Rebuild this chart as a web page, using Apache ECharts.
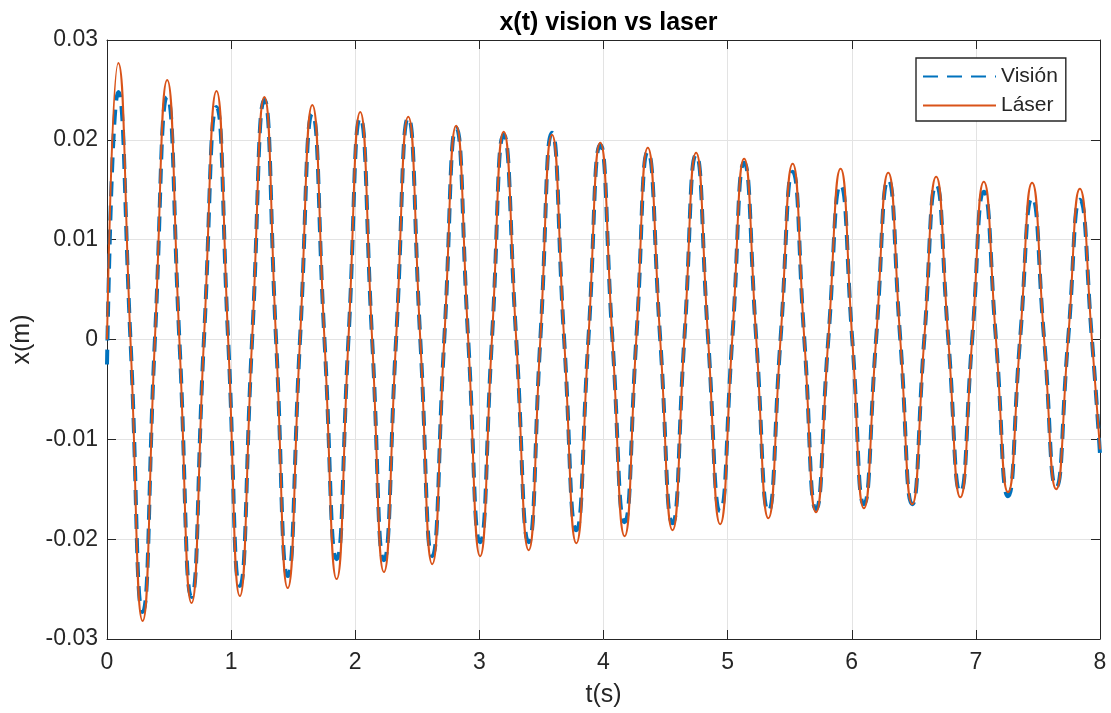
<!DOCTYPE html>
<html>
<head>
<meta charset="utf-8">
<script src="https://cdn.jsdelivr.net/npm/echarts@6/dist/echarts.min.js"></script>
<style>
html,body{margin:0;padding:0;background:#fff;}
#chart{width:1111px;height:713px;}
</style>
</head>
<body>
<div id="chart"></div>
<script>
// time samples (s): start, peaks, zero crossings, troughs, end
const timeS = [
  0, 0.091, 0.189, 0.287, 0.386, 0.485, 0.583, 0.681, 0.781, 0.882, 0.976,
  1.070, 1.169, 1.268, 1.362, 1.456, 1.555, 1.654, 1.752, 1.850, 1.945,
  2.040, 2.136, 2.231, 2.329, 2.427, 2.524, 2.620, 2.717, 2.813, 2.910,
  3.006, 3.101, 3.196, 3.297, 3.397, 3.491, 3.585, 3.683, 3.781, 3.878,
  3.974, 4.072, 4.170, 4.264, 4.357, 4.457, 4.556, 4.651, 4.746, 4.843,
  4.940, 5.037, 5.133, 5.231, 5.328, 5.426, 5.524, 5.618, 5.712, 5.811,
  5.910, 6.004, 6.098, 6.196, 6.294, 6.391, 6.487, 6.584, 6.680, 6.778,
  6.875, 6.970, 7.064, 7.162, 7.259, 7.356, 7.453, 7.550, 7.647, 7.743,
  7.838, 7.935, 8.000
];
// Láser x(m)
const laserX = [
  0, 0.0277, 0, -0.0282, 0, 0.0260, 0, -0.0264, 0, 0.0249, 0,
  -0.0257, 0, 0.0243, 0, -0.0249, 0, 0.0235, 0, -0.0240, 0,
  0.0228, 0, -0.0233, 0, 0.0223, 0, -0.0225, 0, 0.0214, 0,
  -0.0217, 0, 0.0208, 0, -0.0211, 0, 0.0205, 0, -0.0204, 0,
  0.0197, 0, -0.0197, 0, 0.0192, 0, -0.0191, 0, 0.0187, 0,
  -0.0185, 0, 0.0181, 0, -0.0179, 0, 0.0176, 0, -0.0173, 0,
  0.0171, 0, -0.0169, 0, 0.0167, 0, -0.0165, 0, 0.0163, 0,
  -0.0158, 0, 0.0158, 0, -0.0153, 0, 0.0157, 0, -0.0150, 0,
  0.0151, 0, -0.0110
];
// Visión x(m)
const visionX = [
  -0.0025, 0.0248, 0, -0.0273, 0, 0.0243, 0, -0.0258, 0, 0.0233, 0,
  -0.0247, 0, 0.0240, 0, -0.0237, 0, 0.0226, 0, -0.0220, 0,
  0.0222, 0, -0.0221, 0, 0.0222, 0, -0.0217, 0, 0.0212, 0,
  -0.0203, 0, 0.0205, 0, -0.0203, 0, 0.0207, 0, -0.0191, 0,
  0.0195, 0, -0.0183, 0, 0.0188, 0, -0.0184, 0, 0.0185, 0,
  -0.0172, 0, 0.0177, 0, -0.0172, 0, 0.0168, 0, -0.0170, 0,
  0.0155, 0, -0.0165, 0, 0.0160, 0, -0.0165, 0, 0.0155, 0,
  -0.0153, 0, 0.0148, 0, -0.0157, 0, 0.0142, 0, -0.0148, 0,
  0.0140, 0, -0.0115
];
const seriesNames = ['Visión', 'Láser'];
const xTicks = [0, 1, 2, 3, 4, 5, 6, 7, 8];
const yTicks = [-0.03, -0.02, -0.01, 0, 0.01, 0.02, 0.03];

const FONT = "'Liberation Sans', Arial, Helvetica, sans-serif";
const AX = '#262626';
const GRID = '#e3e3e3';

const zip = (a, b) => a.map((v, i) => [v, b[i]]);
const fmtY = v => { const r = Math.round(v * 100) / 100; return r === 0 ? '0' : String(r); };

const chart = echarts.init(document.getElementById('chart'), null, {renderer: 'canvas'});
const baseX = {
  type: 'value', min: xTicks[0], max: xTicks[xTicks.length - 1], interval: 1,
  axisLine: {show: true, onZero: false, lineStyle: {color: AX, width: 1}},
  axisTick: {show: true, inside: true, length: 9, lineStyle: {color: AX}},
};
const baseY = {
  type: 'value', min: yTicks[0], max: yTicks[yTicks.length - 1], interval: 0.01,
  axisLine: {show: true, onZero: false, lineStyle: {color: AX, width: 1}},
  axisTick: {show: true, inside: true, length: 9, lineStyle: {color: AX}},
};
chart.setOption({
  animation: false,
  backgroundColor: '#ffffff',
  title: {
    text: 'x(t) vision vs laser', left: 603.5, top: 6, textAlign: 'center',
    textStyle: {fontFamily: FONT, fontSize: 25, fontWeight: 'bold', color: '#000'}
  },
  grid: {left: 107, right: 11, top: 40, bottom: 73, containLabel: false},
  legend: {
    data: seriesNames, orient: 'vertical', left: 916, top: 58,
    padding: [8, 8, 5, 6], itemGap: 8, itemWidth: 73, itemHeight: 14,
    backgroundColor: '#fff', borderColor: AX, borderWidth: 1.4, borderRadius: 0,
    itemStyle: {opacity: 0},
    textStyle: {fontFamily: FONT, fontSize: 21, color: AX},
    selectedMode: false
  },
  xAxis: [
    Object.assign({}, baseX, {
      position: 'bottom', name: 't(s)', nameLocation: 'middle', nameGap: 44,
      nameTextStyle: {fontFamily: FONT, fontSize: 25, color: AX},
      axisLabel: {fontFamily: FONT, fontSize: 23, color: AX, margin: 12},
      splitLine: {show: true, lineStyle: {color: GRID, width: 1}}
    }),
    Object.assign({}, baseX, {position: 'top', axisLabel: {show: false}, splitLine: {show: false}})
  ],
  yAxis: [
    Object.assign({}, baseY, {
      position: 'left', name: 'x(m)', nameLocation: 'middle', nameGap: 67,
      nameTextStyle: {fontFamily: FONT, fontSize: 25, color: AX},
      axisLabel: {fontFamily: FONT, fontSize: 23, color: AX, margin: 9, formatter: fmtY},
      splitLine: {show: true, lineStyle: {color: GRID, width: 1}}
    }),
    Object.assign({}, baseY, {position: 'right', axisLabel: {show: false}, splitLine: {show: false}})
  ],
  series: [
    {
      name: seriesNames[0], type: 'line', xAxisIndex: 0, yAxisIndex: 0,
      data: zip(timeS, visionX), showSymbol: false, symbol: 'none', smooth: 0.55,
      lineStyle: {color: '#0072BD', width: 4, type: [15, 9]},
      itemStyle: {color: '#0072BD'}, z: 2
    },
    {
      name: seriesNames[1], type: 'line', xAxisIndex: 0, yAxisIndex: 0,
      data: zip(timeS, laserX), showSymbol: false, symbol: 'none', smooth: 0.55,
      lineStyle: {color: '#D95319', width: 2},
      itemStyle: {color: '#D95319'}, z: 3
    }
  ]
});
</script>
</body>
</html>
